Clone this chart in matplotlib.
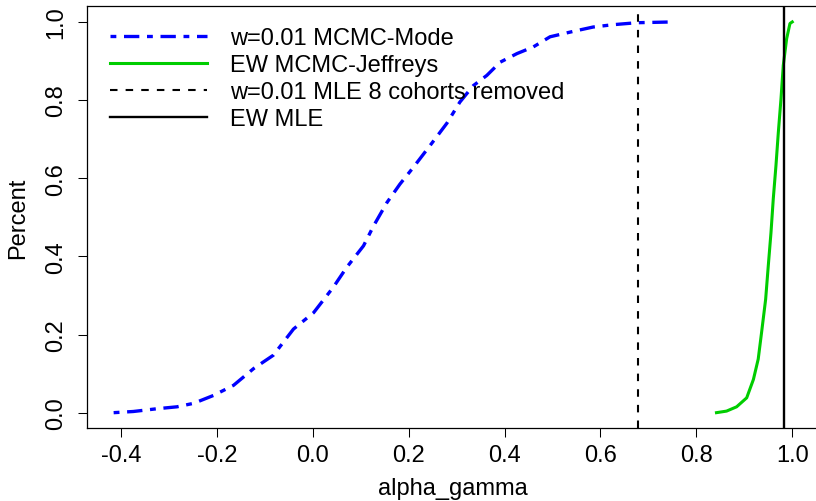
import numpy as np
import matplotlib.pyplot as plt

plt.rcParams['font.family'] = ['Liberation Sans', 'DejaVu Sans']

mode_x = [-0.415, -0.374, -0.325, -0.283, -0.248, -0.207, -0.165, -0.123, -0.082, -0.040,
          0.002, 0.043, 0.071, 0.106, 0.127, 0.155, 0.182, 0.210, 0.245, 0.280,
          0.307, 0.335, 0.363, 0.391, 0.426, 0.460, 0.495, 0.544, 0.585, 0.627,
          0.676, 0.752]
mode_y = [0.000, 0.003, 0.010, 0.015, 0.024, 0.044, 0.070, 0.113, 0.147, 0.214,
          0.256, 0.321, 0.372, 0.427, 0.478, 0.538, 0.585, 0.628, 0.684, 0.741,
          0.795, 0.837, 0.863, 0.897, 0.919, 0.936, 0.962, 0.976, 0.987, 0.993,
          0.998, 1.000]

# EW MCMC-Jeffreys
jeff_x = [0.842, 0.863, 0.884, 0.905, 0.919, 0.929, 0.936, 0.9445, 0.950, 0.9556,
          0.9604, 0.966, 0.971, 0.9765, 0.9813, 0.9883, 0.9952, 1.000]
jeff_y = [0.000, 0.004, 0.015, 0.038, 0.085, 0.137, 0.205, 0.290, 0.376, 0.460,
          0.547, 0.632, 0.718, 0.803, 0.889, 0.957, 0.996, 1.000]

mle_removed = 0.678
ew_mle = 0.983

labels = ['w=0.01 MCMC-Mode', 'EW MCMC-Jeffreys', 'w=0.01 MLE 8 cohorts removed', 'EW MLE']
xticks = [-0.4, -0.2, 0.0, 0.2, 0.4, 0.6, 0.8, 1.0]
yticks = [0.0, 0.2, 0.4, 0.6, 0.8, 1.0]

fs = 17
W, H = 816, 502
fig = plt.figure(figsize=(W / 100, H / 100), dpi=100)
left, right, top, bottom = 86.5, 819.4, 7.3, 429.3
ax = fig.add_axes([left / W, 1 - bottom / H, (right - left) / W, (bottom - top) / H])

ax.plot(mode_x, mode_y, color='#0000ff', lw=2.4, linestyle=(0, (1.75, 2.3, 4.6, 2.3)),
        label=labels[0])
ax.plot(jeff_x, jeff_y, color='#00cd00', lw=2.2, label=labels[1])
ax.axvline(mle_removed, color='black', lw=1.5, linestyle=(0, (3.6, 3.9)), label=labels[2])
ax.axvline(ew_mle, color='black', lw=1.7, label=labels[3])

# R style ranges: 4% padding on each side
lo, hi = min(mode_x), max(jeff_x)
pad = 0.04 * (hi - lo)
ax.set_xlim(lo - pad, hi + pad)
ax.set_ylim(-0.04, 1.04)

ax.set_xticks(xticks)
ax.set_xticklabels(['%.1f' % t for t in xticks])
ax.set_yticks(yticks)
ax.set_yticklabels(['%.1f' % t for t in yticks], rotation=90, va='center')
ax.tick_params(axis='both', labelsize=fs, length=6.8, width=0.75, direction='out')
ax.tick_params(axis='x', pad=4.5)
ax.tick_params(axis='y', pad=7)
for s in ax.spines.values():
    s.set_linewidth(0.9)

ax.set_xlabel('alpha_gamma', fontsize=fs, labelpad=8)
ax.set_ylabel('Percent', fontsize=fs, labelpad=11.5)

axw, axh = right - left, bottom - top
ax.legend(loc='upper left', bbox_to_anchor=(23.5 / axw, 1 - 20.8 / axh), frameon=False,
          fontsize=fs, handlelength=4.1, handletextpad=1.0, labelspacing=0.21,
          borderaxespad=0, borderpad=0)

fig.savefig('out.png', dpi=100)
